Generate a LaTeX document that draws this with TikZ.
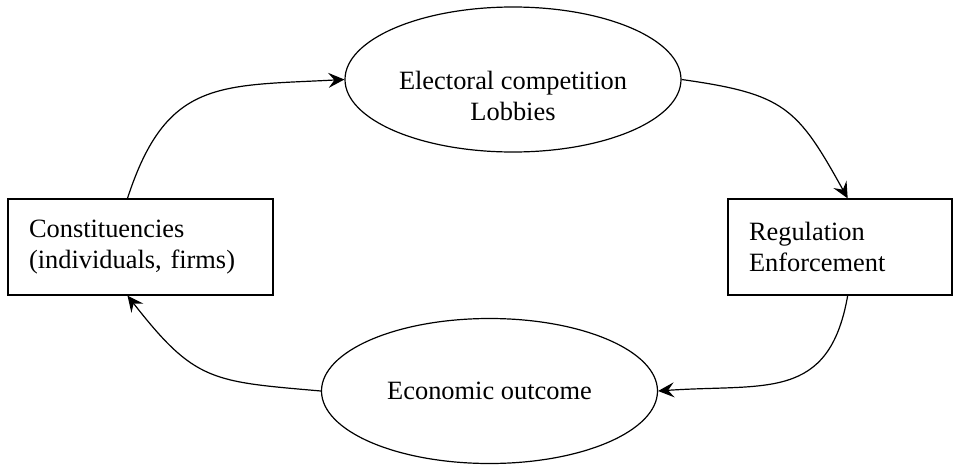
\documentclass[tikz,border=0pt]{standalone}
\usepackage{fontspec}
\setmainfont{Liberation Serif}
\usetikzlibrary{shapes,arrows.meta}
\tikzset{
	block/.style    = {draw, rectangle, minimum height = 48pt,
		inner xsep = 10.5pt, align = left},
	party/.style    = {draw, ellipse, inner xsep = -30pt, inner ysep = 0pt,
		minimum width = 168pt, minimum height = 72.5pt, align = center}
}

\begin{document}
\begin{tikzpicture}[x=0.5pt, y=0.5pt, line width=0.6pt,
	font=\fontsize{13.2}{15.5}\selectfont,
	>={Stealth[length=8pt,width=7.5pt,inset=3pt]}]
	\useasboundingbox (0,0) rectangle (960,468);
	\draw
	node at (140.5,221) [block, text width=111.5pt] (cons) {Constituencies\\ (individuals, firms)}
	node at (840,221) [block, text width=91pt] (reg) {Regulation\\ Enforcement}
	node at (513,388.5) [party, text height=40.5pt, text depth=0pt] (elect) {Electoral competition\\ Lobbies}
	node at (489.5,77) [party] (econ) {Economic outcome}
	;
	\draw[->](cons.105) to[out=72, in=183, looseness=1.3] (elect.west);
	\draw[->](elect.east) to[out=-8, in=119, looseness=1.3] (reg.81);
	\draw[->](reg.-81) to[out=-100, in=4, looseness=1.3] (econ.east);
	\draw[->](econ.west) to[out=175, in=-52, looseness=1.3] (cons.-105);
\end{tikzpicture}
\end{document}
